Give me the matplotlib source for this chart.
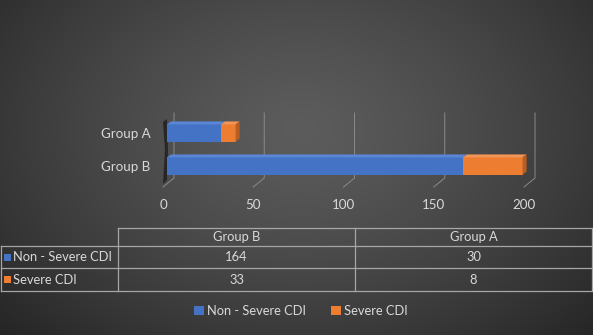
import numpy as np
import matplotlib
matplotlib.use('Agg')
import matplotlib.pyplot as plt
from matplotlib.patches import Polygon, Patch
import matplotlib.transforms as mtransforms

# ---- data ----
groups = ['Group B', 'Group A']          # bottom to top on the chart
non_severe = [164, 30]
severe = [33, 8]
series_names = ['Non - Severe CDI', 'Severe CDI']
xticks = [0, 50, 100, 150, 200]

BLUE = '#4472C4'
ORANGE = '#ED7D31'
TXT = '#D9D9D9'
GRID = '#8A8A8A'
TBL = '#A6A6A6'
FS = 9.3

W, H = 593, 335
plt.rcParams['font.family'] = ['Lato', 'DejaVu Sans']
fig = plt.figure(figsize=(W / 100, H / 100), dpi=100)

# ---- background radial gradient ----
bg = fig.add_axes([0, 0, 1, 1], zorder=0)
yy, xx = np.mgrid[0:H, 0:W]
d = np.sqrt(((xx - 300) / 420.0) ** 2 + ((yy - 130) / 300.0) ** 2)
d = np.clip(d, 0, 1)
c_in = np.array([0x5c, 0x5c, 0x5c]) / 255
c_out = np.array([0x24, 0x24, 0x24]) / 255
img = c_in[None, None, :] * (1 - d[..., None] ** 1.3) + c_out[None, None, :] * (d[..., None] ** 1.3)
bg.imshow(img, extent=[0, W, H, 0], aspect='auto', interpolation='bilinear')
bg.set_xlim(0, W)
bg.set_ylim(H, 0)
bg.axis('off')

# ---- main chart axes ----
ax_l, ax_r, ax_t, ax_b = 167, 528, 105, 185
ax = fig.add_axes([ax_l / W, 1 - ax_b / H, (ax_r - ax_l) / W, (ax_b - ax_t) / H], zorder=2)
ax.set_facecolor('none')
ppu_x = (ax_r - ax_l) / 200.0
ppu_y = 33.0
ylo = -(ax_b - 166) / ppu_y
yhi = ylo + (ax_b - ax_t) / ppu_y
ax.set_xlim(0, 200)
ax.set_ylim(ylo, yhi)

def ypx(p):
    return ylo + (ax_b - p) / ppu_y

# gridlines (3D-like: back wall vertical + floor slant)
for t in xticks:
    xb = t + 7 / ppu_x
    xf = t - 4 / ppu_x
    ax.plot([xb, xb, xf], [ypx(113), ypx(178), ypx(187)], color=GRID, lw=0.7,
            clip_on=False, zorder=1)

# left wall shadow
ax.add_patch(Polygon([(-4 / ppu_x, ypx(122)), (0, ypx(119)), (1 / ppu_x, ypx(150)),
                      (0, ypx(180)), (-4 / ppu_x, ypx(184)), (-2 / ppu_x, ypx(150))],
                     closed=True, facecolor='#0d0d0d', alpha=0.6, edgecolor='none',
                     clip_on=False, zorder=1.5))

ys = np.arange(len(groups))
h = 0.52
ax.barh(ys, non_severe, height=h, color=BLUE, zorder=3)
ax.barh(ys, severe, left=non_severe, height=h, color=ORANGE, zorder=3)

dx, dy = 4 / ppu_x, 3 / ppu_y
for y, a, b in zip(ys, non_severe, severe):
    top = y + h / 2
    for l, r, col in [(0, a, '#5A86D6'), (a, a + b, '#F39556')]:
        ax.add_patch(Polygon([(l, top), (r, top), (r + dx, top + dy), (l + dx, top + dy)],
                             closed=True, facecolor=col, edgecolor='none', zorder=3, clip_on=False))
    r = a + b
    ax.add_patch(Polygon([(r, y - h / 2), (r, top), (r + dx, top + dy), (r + dx, y - h / 2 + dy)],
                         closed=True, facecolor='#B85E22', edgecolor='none', zorder=3, clip_on=False))

for s in ax.spines.values():
    s.set_visible(False)
ax.set_yticks(ys)
ax.set_yticklabels(groups)
ax.set_xticks(xticks)
ax.set_xticklabels([str(t) for t in xticks])
ax.tick_params(axis='both', length=0, colors=TXT, labelsize=FS + 0.3)
ax.tick_params(axis='y', pad=12)
ax.tick_params(axis='x', pad=10)
off = mtransforms.ScaledTranslation(-4 / 100, 0, fig.dpi_scale_trans)
for lab in ax.get_xticklabels():
    lab.set_transform(lab.get_transform() + off)

# ---- data table (in pixel coordinates on background axes) ----
col_edges = [118, 355, 592]
row_edges = [228, 246, 268, 291]
lw = 0.9
bg.plot([118, 592], [228, 228], color=TBL, lw=lw)
for yv in row_edges[1:]:
    bg.plot([1, 592], [yv, yv], color=TBL, lw=lw)
for xv in col_edges:
    bg.plot([xv, xv], [228, 291], color=TBL, lw=lw)
bg.plot([1, 1], [246, 291], color=TBL, lw=lw)

table_cols = groups            # Group B, Group A
table_vals = [non_severe, severe]
colors = [BLUE, ORANGE]
for j, g in enumerate(table_cols):
    cx = (col_edges[j] + col_edges[j + 1]) / 2
    bg.text(cx, (row_edges[0] + row_edges[1]) / 2, g, color=TXT, fontsize=FS,
            ha='center', va='center')
for i, (name, vals, col) in enumerate(zip(series_names, table_vals, colors)):
    cy = (row_edges[i + 1] + row_edges[i + 2]) / 2
    bg.add_patch(plt.Rectangle((3.5, cy - 3.5), 7, 7, facecolor=col, edgecolor='none'))
    bg.text(13, cy, name, color=TXT, fontsize=FS, ha='left', va='center')
    for j in range(len(table_cols)):
        cx = (col_edges[j] + col_edges[j + 1]) / 2
        bg.text(cx, cy, str(vals[j]), color=TXT, fontsize=FS, ha='center', va='center')

# ---- legend ----
handles = [Patch(facecolor=BLUE, edgecolor='none'), Patch(facecolor=ORANGE, edgecolor='none')]
leg = fig.legend(handles, series_names, loc='center', bbox_to_anchor=(301 / W, 1 - 311 / H),
                 ncol=2, frameon=False, fontsize=FS, handlelength=0.75, handleheight=0.75,
                 handletextpad=0.25, columnspacing=1.9, labelcolor=TXT)

fig.savefig('out.png', dpi=100)
